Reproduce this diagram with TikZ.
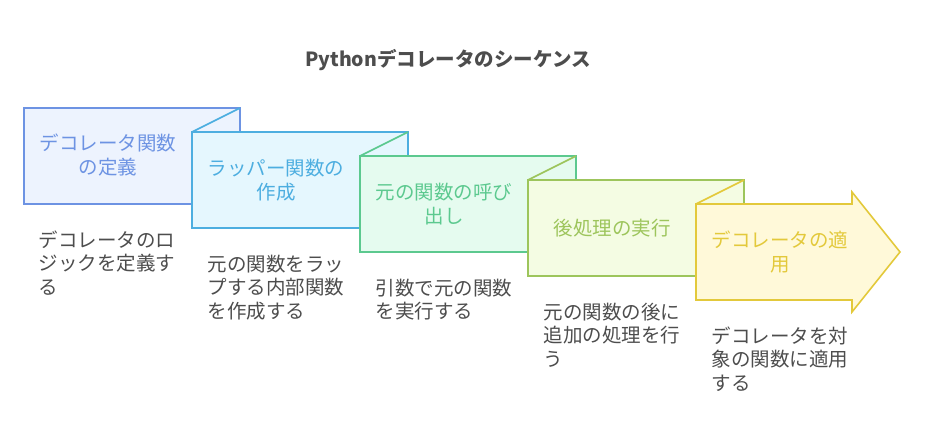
\documentclass[tikz,border=0pt]{standalone}
\usepackage{fontspec}
\setmainfont{Noto Sans CJK JP}
\usepackage{tikz}
\usetikzlibrary{positioning,calc}
\definecolor{lineA}{HTML}{6D93E3}\definecolor{fillA}{HTML}{EDF3FE}
\definecolor{lineB}{HTML}{4DAEE0}\definecolor{fillB}{HTML}{E5F7FE}
\definecolor{lineC}{HTML}{5CC98F}\definecolor{fillC}{HTML}{E5FBEF}
\definecolor{lineD}{HTML}{9DC55C}\definecolor{fillD}{HTML}{F4FCE3}
\definecolor{lineE}{HTML}{E3C93B}\definecolor{fillE}{HTML}{FFF9D9}
\definecolor{desc}{HTML}{4D4D4D}

\begin{document}
\begin{tikzpicture}[x=1pt,y=-1pt,line width=1.6pt,line join=miter,
boxtext/.style = {align=center, font=\fontsize{19.5}{24.5}\selectfont, inner sep=0pt},
desctext/.style = {align=left, anchor=north west, text=desc, font=\fontsize{19.5}{23.5}\selectfont, inner sep=0pt},]
\useasboundingbox (0,0) rectangle (925,444);
%Title
\node (title) at (448,60)[font=\fontsize{19.5}{24}\selectfont\bfseries, text=desc] {Pythonデコレータのシーケンス};
%Folded boxes
\filldraw[draw=lineA,fill=fillA] (24,108) rectangle (240,204);
\filldraw[draw=lineB,fill=fillB] (192,132) rectangle (408,228);
\draw[lineB] (192,132) -- (240,108);
\filldraw[draw=lineC,fill=fillC] (360,156) rectangle (576,252);
\draw[lineC] (360,156) -- (408,132);
\filldraw[draw=lineD,fill=fillD] (528,180) rectangle (744,276);
\draw[lineD] (528,180) -- (576,156);
%Arrow at the end
\filldraw[draw=lineE,fill=fillE] (696,204) -- (852,204) -- (852,192) -- (900,252) -- (852,312) -- (852,300) -- (696,300) -- cycle;
\draw[lineE] (696,204) -- (744,180);
%Labels in the boxes
\node (defn) at (108,155)[boxtext,text=lineA] {デコレータ関数\\の定義};
\node (wrap) at (276,180)[boxtext,text=lineB] {ラッパー関数の\\作成};
\node (call) at (444,204)[boxtext,text=lineC] {元の関数の呼び\\出し};
\node (post) at (612,228)[boxtext,text=lineD] {後処理の実行};
\node (apply) at (780,252)[boxtext,text=lineE] {デコレータの適\\用};
%Descriptions
\node (defnD) at (38,230)[desctext] {デコレータのロ\\ジックを定義す\\る};
\node (wrapD) at (207,254)[desctext] {元の関数をラッ\\プする内部関数\\を作成する};
\node (callD) at (375,278)[desctext] {引数で元の関数\\を実行する};
\node (postD) at (543,302)[desctext] {元の関数の後に\\追加の処理を行\\う};
\node (applyD) at (711,326)[desctext] {デコレータを対\\象の関数に適用\\する};
\end{tikzpicture}
\end{document}
